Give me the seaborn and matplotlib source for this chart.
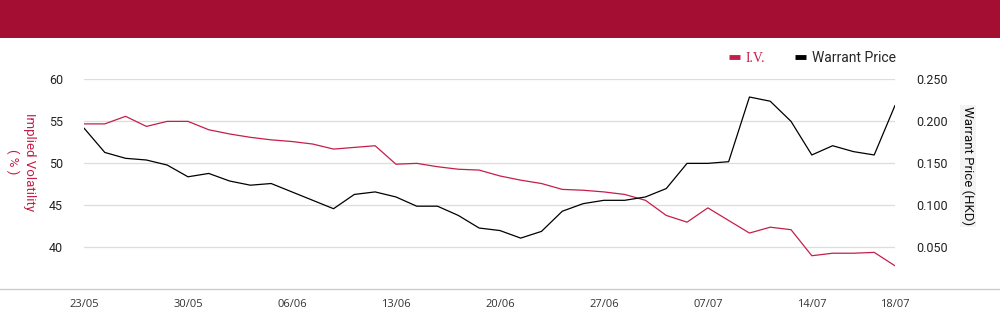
import matplotlib
matplotlib.use("Agg")
import matplotlib.pyplot as plt
import seaborn as sns
from matplotlib.patches import Rectangle
from matplotlib.lines import Line2D
from matplotlib.ticker import FormatStrFormatter

# trading days shown on the chart
dates = ['23/05', '24/05', '27/05', '28/05', '29/05', '30/05', '31/05', '03/06', '04/06', '05/06',
         '06/06', '07/06', '10/06', '11/06', '12/06', '13/06', '14/06', '17/06', '18/06', '19/06',
         '20/06', '21/06', '24/06', '25/06', '26/06', '27/06', '28/06', '03/07', '04/07', '05/07',
         '07/07', '08/07', '09/07', '10/07', '11/07', '14/07', '15/07', '16/07', '17/07', '18/07']

# implied volatility (%)
iv = [54.7, 54.7, 55.6, 54.4, 55.0, 55.0, 54.0, 53.5, 53.1, 52.8,
      52.6, 52.3, 51.7, 51.9, 52.1, 49.9, 50.0, 49.6, 49.3, 49.2,
      48.5, 48.0, 47.6, 46.9, 46.8, 46.6, 46.3, 45.6, 43.8, 43.0,
      44.7, 43.2, 41.7, 42.4, 42.1, 39.0, 39.3, 39.3, 39.4, 37.8]

# warrant price (HKD)
price = [0.192, 0.163, 0.156, 0.154, 0.148, 0.134, 0.138, 0.129, 0.124, 0.126,
         0.116, 0.106, 0.096, 0.113, 0.116, 0.110, 0.099, 0.099, 0.088, 0.073,
         0.070, 0.061, 0.069, 0.093, 0.102, 0.106, 0.106, 0.110, 0.120, 0.150,
         0.150, 0.152, 0.229, 0.224, 0.200, 0.160, 0.171, 0.164, 0.160, 0.219]

iv_ticks = [40, 45, 50, 55, 60]
price_ticks = [0.05, 0.10, 0.15, 0.20, 0.25]

RED = '#C41F4A'
BAND = '#A50E33'
GRID = '#dddddd'

sns.set_style('white')
plt.rcParams['font.family'] = ['Roboto', 'DejaVu Sans']

x = list(range(len(dates)))
tick_idx = list(range(0, len(dates), 5)) + [len(dates) - 1]

fig = plt.figure(figsize=(10, 3.24), dpi=100)
fig.add_artist(Rectangle((0, 1 - 38 / 324), 1, 38 / 324, transform=fig.transFigure,
                         color=BAND, lw=0, zorder=0))

ax = fig.add_axes([0.084, 0.107, 0.811, 0.648])
ax2 = ax.twinx()

sns.lineplot(x=x, y=iv, ax=ax, color=RED, lw=0.9, legend=False)
sns.lineplot(x=x, y=price, ax=ax2, color='black', lw=0.9, legend=False)

ax.set_xlim(0, len(dates) - 1)
ax.set_ylim(35, 60)
ax2.set_ylim(0, 0.25)
ax.set_yticks(iv_ticks)
ax2.set_yticks(price_ticks)
ax2.yaxis.set_major_formatter(FormatStrFormatter('%.3f'))
ax.set_xticks(tick_idx)
ax.set_xticklabels([dates[i] for i in tick_idx], fontfamily=['Open Sans', 'DejaVu Sans'])
ax.grid(axis='y', color=GRID, lw=0.9)
ax.grid(axis='x', visible=False)
ax2.grid(False)
for a in (ax, ax2):
    for s in a.spines.values():
        s.set_visible(False)
    a.set_xlabel('')
    a.set_ylabel('')
ax.tick_params(axis='y', length=0, pad=15, labelsize=9, colors='#222222')
ax2.tick_params(axis='y', length=0, pad=15, labelsize=9, colors='#222222')
ax.tick_params(axis='x', length=0, pad=7, labelsize=8, colors='#333333')

# full width baseline
fig.add_artist(Line2D([0, 1], [0.107, 0.107], transform=fig.transFigure, color='#cccccc', lw=1))

fig.text(0.021, 0.5, 'Implied Volatility\n( % )', rotation=270, ha='center', va='center',
         multialignment='center', color=RED, fontsize=9.5, linespacing=1.3)
fig.text(0.968, 0.488, 'Warrant Price (HKD)', rotation=270, ha='center', va='center',
         color='#111111', fontsize=9.5,
         bbox=dict(facecolor='#f3f3f3', edgecolor='none', pad=1))

handles = [Line2D([], [], color=RED, lw=3.5, solid_capstyle='butt'),
           Line2D([], [], color='black', lw=3.5, solid_capstyle='butt')]
leg = fig.legend(handles, ['I.V.', 'Warrant Price'], loc='center right',
                 bbox_to_anchor=(0.903, 0.821), ncol=2, frameon=False, fontsize=10,
                 borderpad=0, handlelength=0.8, handletextpad=0.45, columnspacing=2.1)
leg.get_texts()[0].set_color(RED)
leg.get_texts()[0].set_family(['Liberation Serif', 'DejaVu Serif'])

fig.savefig('out.png', dpi=100)
